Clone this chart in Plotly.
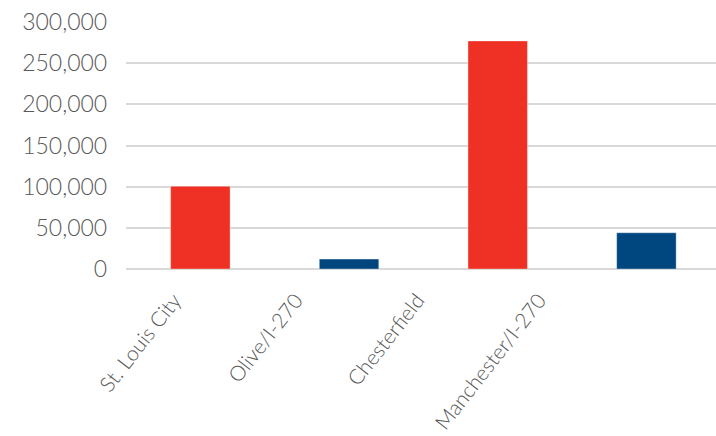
import plotly.graph_objects as go

categories = ["St. Louis City", "Olive/I-270", "Chesterfield", "Manchester/I-270"]
values = [100500, 12000, 277000, 44000]
colors = ["#EE3124", "#00467F", "#EE3124", "#00467F"]
y_ticks = [0, 50000, 100000, 150000, 200000, 250000, 300000]
y_tick_labels = ["0", "50,000", "100,000", "150,000", "200,000", "250,000", "300,000"]

positions = list(range(len(categories)))

fig = go.Figure()
# helper trace on the label axis (x) so it is drawn
fig.add_trace(
    go.Scatter(
        x=positions,
        y=[None] * len(categories),
        xaxis="x",
        yaxis="y",
        showlegend=False,
        hoverinfo="skip",
    )
)
# bars on the full-width axis (x2), drawn on top of the grid
fig.add_trace(
    go.Bar(
        x=positions,
        y=values,
        xaxis="x2",
        yaxis="y",
        marker=dict(color=colors, line=dict(color="rgba(255,255,255,0.35)", width=1)),
        width=0.4,
        hovertext=categories,
    )
)

font_family = "Lato"
fig.update_layout(
    width=716,
    height=436,
    margin=dict(l=126, r=0, t=22, b=167),
    paper_bgcolor="white",
    plot_bgcolor="rgba(0,0,0,0)",
    showlegend=False,
    font=dict(family=font_family, color="#595959", size=21, weight=300),
    xaxis=dict(
        anchor="y",
        domain=[0.0173, 0.842],
        range=[-0.5, 3.5],
        tickmode="array",
        tickvals=positions,
        ticktext=categories,
        tickangle=-52,
        showgrid=False,
        showline=False,
        zeroline=False,
        ticks="",
        ticklabelstandoff=14,
        ticklabelshift=-23,
        tickfont=dict(size=21, color="#595959", family=font_family, weight=300),
    ),
    xaxis2=dict(
        anchor="y",
        domain=[0, 1],
        range=[-0.5, 3.468],
        showgrid=False,
        showline=False,
        zeroline=False,
        ticks="",
        showticklabels=False,
    ),
    yaxis=dict(
        range=[0, 300000],
        tickvals=y_ticks,
        ticktext=y_tick_labels,
        showgrid=True,
        gridcolor="#D9D9D9",
        gridwidth=1.5,
        zeroline=True,
        zerolinecolor="#D9D9D9",
        zerolinewidth=1.5,
        ticks="",
        ticklabelstandoff=28,
        tickfont=dict(size=23, color="#595959", family=font_family, weight=300),
    ),
)

fig.write_html("out.html")
